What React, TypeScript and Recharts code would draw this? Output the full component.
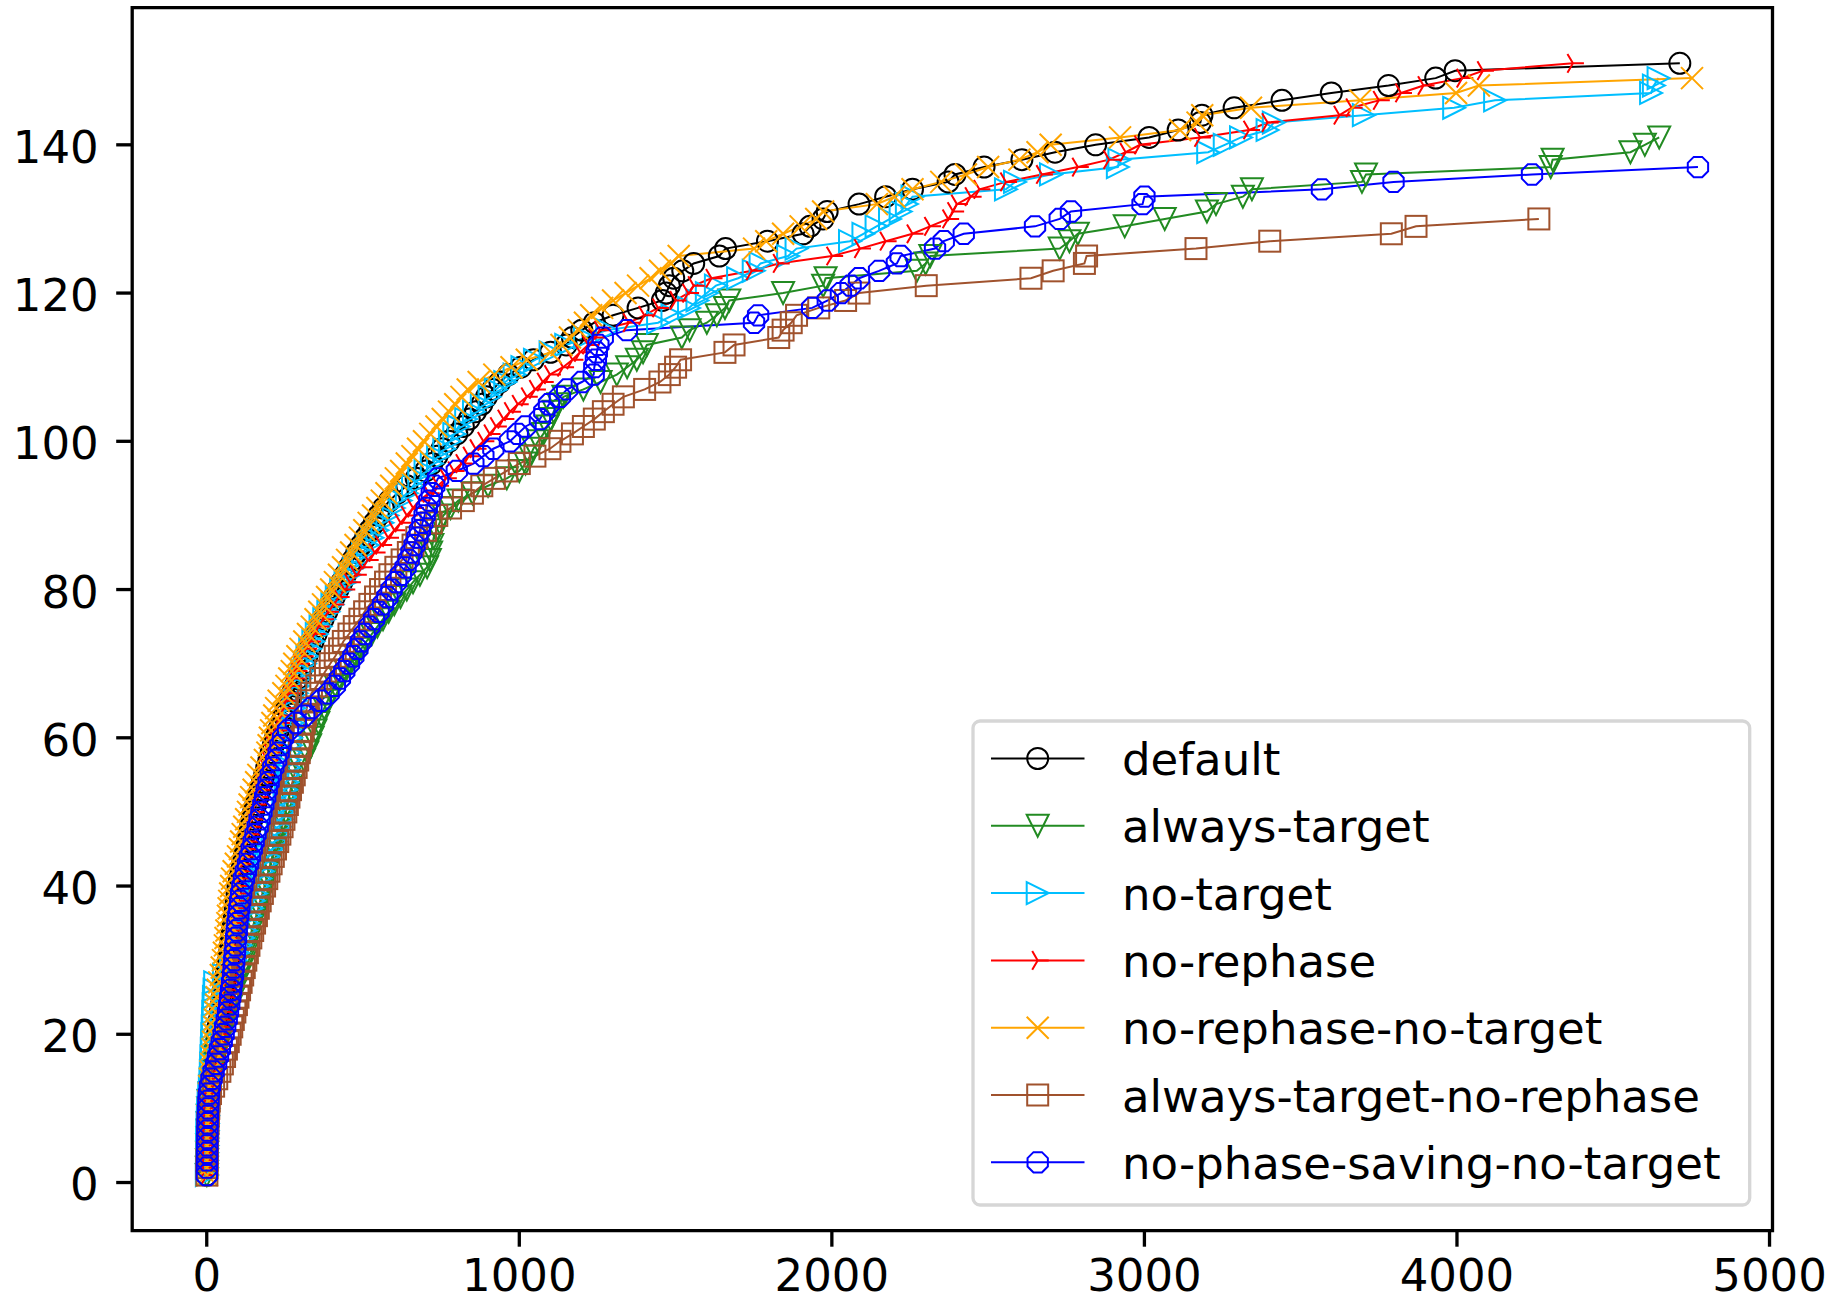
import React from 'react';
import { LineChart, Line, XAxis, YAxis, ReferenceArea } from 'recharts';

// Solve times (x) of each configuration, sorted; y = number of instances solved.
const defaultTimes = [
  0.3, 0.5, 0.7, 1, 1.3, 1.6, 2, 2.5, 3, 4, 5,
  8, 11, 15, 17, 21, 25, 27, 31, 34, 36,
  40, 43, 47, 50, 54, 58, 62, 66, 70, 73,
  76, 79, 82, 85, 88, 91, 94, 97, 100, 105,
  110, 115, 120, 125, 130, 135, 140, 145, 150, 157,
  164, 171, 178, 185, 192, 199, 206, 213, 220, 229,
  238, 247, 256, 265, 274, 283, 292, 301, 310, 320,
  330, 340, 350, 360, 372, 384, 396, 408, 420, 432,
  444, 456, 468, 480, 494, 508, 522, 536, 550, 565,
  585, 610, 640, 670, 700, 720, 736, 753, 775, 800,
  821, 840, 860, 880, 895, 915, 938, 965, 1005, 1045,
  1100, 1150, 1170, 1200, 1240, 1300, 1380, 1458, 1470, 1480,
  1494, 1523, 1558, 1640, 1660, 1794, 1908, 1930, 1972, 1985,
  2087, 2172, 2258, 2372, 2394, 2487, 2608, 2714, 2844, 3015,
  3108, 3179, 3184, 3287, 3440, 3598, 3781, 3932, 3994, 4713,
];

const alwaysTargetTimes = [
  0.4, 0.6, 0.9, 1.2, 1.5, 2, 2.4, 3, 3.6, 4.5, 6,
  9, 12, 16, 20, 25, 31, 37, 44, 52, 58,
  65, 72, 80, 87, 93, 100, 108, 116, 124, 129,
  134, 139, 144, 151, 159, 167, 174, 180, 186, 192,
  197, 204, 210, 216, 221, 227, 235, 244, 253, 258,
  263, 270, 278, 290, 300, 311, 322, 331, 339, 348,
  357, 366, 376, 387, 399, 412, 428, 444, 460, 477,
  494, 511, 528, 546, 564, 582, 600, 620, 640, 660,
  682, 705, 714, 718, 722, 726, 735, 745, 757, 780,
  805, 850, 900, 960, 1000, 1020, 1035, 1045, 1060, 1077,
  1090, 1100, 1110, 1125, 1141, 1205, 1260, 1312, 1345, 1376,
  1396, 1408, 1520, 1545, 1600, 1632, 1658, 1672, 1844, 1972,
  1980, 2272, 2300, 2315, 2729, 2760, 2787, 2937, 3065, 3200,
  3229, 3315, 3344, 3696, 3709, 4300, 4306, 4555, 4601, 4647,
];

const noTargetTimes = [
  0.3, 0.5, 0.8, 1, 1.3, 1.7, 2.2, 2.8, 3.5, 4.5, 6,
  8, 10, 12, 13, 14, 15, 16, 17, 18, 19,
  20, 21, 22, 23, 25, 27, 55, 78, 92, 100,
  108, 116, 124, 131, 138, 144, 150, 157, 164, 171,
  179, 188, 198, 210, 222, 229, 235, 240, 245, 249,
  252, 255, 258, 261, 263, 265, 267, 269, 270, 272,
  274, 277, 280, 284, 288, 293, 299, 306, 314, 322,
  331, 341, 352, 364, 376, 389, 402, 416, 430, 444,
  458, 472, 486, 500, 515, 530, 546, 562, 578, 598,
  620, 640, 660, 680, 700, 720, 740, 760, 778, 792,
  806, 830, 855, 880, 905, 925, 955, 985, 1010, 1050,
  1100, 1150, 1210, 1281, 1444, 1490, 1543, 1570, 1600, 1629,
  1700, 1750, 1772, 1860, 1887, 2058, 2101, 2143, 2186, 2220,
  2240, 2258, 2557, 2586, 2701, 2915, 2920, 3204, 3257, 3309,
  3394, 3414, 3702, 3991, 4122, 4621, 4630, 4645,
];

const noRephaseTimes = [
  0.3, 0.6, 0.9, 1.2, 1.6, 2, 2.5, 3, 3.8, 4.6, 6,
  8, 10, 13, 16, 21, 26, 31, 36, 40, 43,
  46, 49, 52, 55, 58, 61, 64, 67, 70, 73,
  76, 79, 82, 85, 88, 91, 94, 97, 100, 105,
  110, 115, 120, 125, 130, 135, 140, 145, 150, 156,
  162, 168, 174, 180, 187, 194, 201, 208, 215, 223,
  231, 239, 247, 255, 263, 271, 279, 287, 295, 307,
  318, 330, 345, 358, 372, 388, 405, 422, 440, 458,
  477, 496, 515, 537, 558, 580, 600, 620, 640, 660,
  680, 710, 740, 765, 790, 815, 838, 860, 885, 905,
  925, 949, 970, 995, 1024, 1050, 1075, 1098, 1140, 1170,
  1194, 1220, 1240, 1258, 1350, 1400, 1444, 1500, 1540, 1558,
  1615, 1744, 1830, 2001, 2090, 2172, 2258, 2314, 2372, 2388,
  2400, 2444, 2472, 2557, 2672, 2787, 2887, 2940, 2986, 3178,
  3335, 3394, 3624, 3663, 3750, 3821, 3893, 4017, 4083, 4371,
];

const noRephaseNoTargetTimes = [
  0.2, 0.4, 0.6, 0.9, 1.2, 1.5, 2, 2.5, 3, 4, 5,
  7, 8, 10, 12, 14, 16, 18, 20, 22, 24,
  26, 28, 30, 32, 35, 40, 45, 48, 52, 55,
  58, 60, 63, 66, 68, 70, 72, 75, 78, 81,
  86, 93, 100, 106, 110, 115, 120, 126, 132, 137,
  142, 150, 158, 165, 175, 186, 194, 198, 202, 206,
  210, 216, 222, 230, 245, 255, 264, 272, 280, 290,
  300, 312, 324, 336, 348, 360, 372, 385, 398, 410,
  423, 436, 449, 462, 476, 490, 504, 518, 532, 546,
  560, 575, 590, 605, 622, 640, 658, 676, 695, 715,
  735, 755, 775, 795, 815, 835, 870, 920, 975, 1024,
  1100, 1135, 1162, 1190, 1210, 1230, 1265, 1300, 1340, 1380,
  1420, 1450, 1485, 1510, 1751, 1790, 1844, 1900, 1950, 1972,
  2144, 2200, 2258, 2350, 2429, 2500, 2600, 2658, 2700, 2922,
  3114, 3170, 3185, 3341, 3690, 3997, 4070, 4752,
];

const alwaysTargetNoRephaseTimes = [
  0.5, 0.8, 1.2, 1.6, 2, 2.6, 3.2, 4, 5, 6.5, 8,
  12, 22, 32, 42, 50, 57, 63, 69, 75, 80,
  85, 90, 95, 100, 105, 110, 115, 120, 125, 130,
  135, 141, 147, 153, 159, 165, 171, 178, 185, 192,
  199, 206, 213, 220, 227, 234, 241, 247, 253, 258,
  263, 268, 274, 280, 286, 291, 296, 300, 304, 308,
  312, 316, 320, 325, 335, 352, 365, 380, 395, 411,
  425, 437, 455, 472, 490, 505, 522, 540, 556, 572,
  586, 605, 625, 645, 660, 672, 700, 718, 736, 780,
  821, 850, 880, 920, 960, 1000, 1050, 1098, 1130, 1170,
  1205, 1240, 1269, 1300, 1333, 1401, 1450, 1480, 1500, 1516,
  1658, 1687, 1830, 1844, 1870, 1887, 1958, 2044, 2087, 2302,
  2637, 2708, 2808, 2815, 3165, 3401, 3790, 3869, 4262,
];

const noPhaseSavingNoTargetTimes = [
  0.3, 0.5, 0.8, 1.1, 1.4, 1.8, 2.2, 2.8, 3.5, 4.3, 5.5,
  7, 10, 15, 22, 30, 36, 42, 48, 54, 59,
  64, 68, 72, 75, 78, 81, 84, 86, 88, 90,
  92, 94, 96, 98, 101, 104, 107, 110, 114, 119,
  125, 132, 138, 144, 150, 156, 163, 169, 175, 181,
  187, 192, 198, 205, 213, 222, 230, 236, 244, 260,
  285, 312, 335, 365, 390, 410, 426, 440, 455, 469,
  482, 494, 505, 520, 535, 550, 564, 578, 591, 606,
  621, 636, 646, 655, 665, 674, 682, 690, 697, 704,
  712, 720, 728, 740, 800, 853, 885, 917, 970, 995,
  1020, 1066, 1080, 1095, 1130, 1153, 1200, 1238, 1240, 1245,
  1248, 1253, 1267, 1344, 1751, 1764, 1937, 1987, 2029, 2060,
  2087, 2151, 2208, 2220, 2330, 2358, 2422, 2650, 2729, 2765,
  2994, 3000, 3568, 3797, 4240, 4771,
];

const xTicks = [0, 1000, 2000, 3000, 4000, 5000];
const yTicks = [0, 20, 40, 60, 80, 100, 120, 140];

type Kind = 'circle' | 'tdown' | 'tright' | 'tri4' | 'x' | 'square' | 'oct';

const series: { name: string; times: number[]; color: string; kind: Kind }[] = [
  { name: 'default', times: defaultTimes, color: '#000000', kind: 'circle' },
  { name: 'always-target', times: alwaysTargetTimes, color: '#228B22', kind: 'tdown' },
  { name: 'no-target', times: noTargetTimes, color: '#00BFFF', kind: 'tright' },
  { name: 'no-rephase', times: noRephaseTimes, color: '#FF0000', kind: 'tri4' },
  { name: 'no-rephase-no-target', times: noRephaseNoTargetTimes, color: '#FFA500', kind: 'x' },
  { name: 'always-target-no-rephase', times: alwaysTargetNoRephaseTimes, color: '#A0522D', kind: 'square' },
  { name: 'no-phase-saving-no-target', times: noPhaseSavingNoTargetTimes, color: '#0000FF', kind: 'oct' },
];

const MW = 2; // marker edge width

function marker(kind: Kind, cx: number, cy: number, color: string, key: string) {
  const common = { fill: 'none', stroke: color, strokeWidth: MW, key } as any;
  const r = 11;
  switch (kind) {
    case 'circle':
      return <circle {...common} cx={cx} cy={cy} r={10.5} />;
    case 'tdown':
      return <polygon {...common} strokeLinejoin="miter" points={`${cx - r},${cy - r} ${cx + r},${cy - r} ${cx},${cy + r}`} />;
    case 'tright':
      return <polygon {...common} strokeLinejoin="miter" points={`${cx - r},${cy - r} ${cx - r},${cy + r} ${cx + r},${cy}`} />;
    case 'tri4':
      return (
        <path
          {...common}
          d={`M${cx},${cy}L${cx + r},${cy}M${cx},${cy}L${cx - 0.5 * r},${cy - 0.85 * r}M${cx},${cy}L${cx - 0.5 * r},${cy + 0.85 * r}`}
        />
      );
    case 'x':
      return <path {...common} d={`M${cx - r},${cy - r}L${cx + r},${cy + r}M${cx - r},${cy + r}L${cx + r},${cy - r}`} />;
    case 'square':
      return <rect {...common} x={cx - 10.5} y={cy - 10.5} width={21} height={21} />;
    case 'oct': {
      const pts: string[] = [];
      for (let k = 0; k < 8; k++) {
        const a = ((22.5 + 45 * k) * Math.PI) / 180;
        pts.push(`${cx + r * Math.cos(a)},${cy + r * Math.sin(a)}`);
      }
      return <polygon {...common} points={pts.join(' ')} />;
    }
  }
  return null as any;
}

const FONT = 'DejaVu Sans';

export default function App() {
  const legendX = 973;
  const legendY = 721;
  const rowY0 = 758.5;
  const rowStep = 67.3;
  return (
    <div style={{ position: 'absolute', left: 0, top: 0, width: 1843, height: 1303, background: '#fff' }}>
      <LineChart
        width={1843}
        height={1303}
        margin={{ top: 7.7, right: 70.5, bottom: 0, left: 0 }}
      >
        <XAxis
          type="number"
          dataKey="x"
          domain={[-238.5, 5009.5]}
          allowDataOverflow
          ticks={xTicks}
          interval={0}
          height={72.3}
          tickSize={16}
          tickMargin={12}
          axisLine={false}
          tickLine={{ stroke: '#000', strokeWidth: 3.3 }}
          tick={{ fontSize: 45, fill: '#000', fontFamily: FONT }}
        />
        <YAxis
          type="number"
          domain={[-6.5, 158.5]}
          allowDataOverflow
          ticks={yTicks}
          interval={0}
          width={132.2}
          tickSize={16}
          tickMargin={17.5}
          axisLine={false}
          tickLine={{ stroke: '#000', strokeWidth: 3.3 }}
          tick={{ fontSize: 45, fill: '#000', fontFamily: FONT, dy: 2 } as any}
        />
        {series.map((s) => (
          <Line
            key={s.name}
            name={s.name}
            data={s.times.map((t, i) => ({ x: t, y: i + 1 }))}
            dataKey="y"
            type="linear"
            stroke={s.color}
            strokeWidth={2}
            isAnimationActive={false}
            activeDot={false}
            legendType="none"
            dot={(p: any) => marker(s.kind, p.cx, p.cy, s.color, `${s.name}-${p.index}`)}
          />
        ))}
        <ReferenceArea
          x1={-238.5}
          x2={5009.5}
          y1={-6.5}
          y2={158.5}
          ifOverflow="visible"
          fill="none"
          fillOpacity={0}
          stroke="#000"
          strokeWidth={3.3}
        />
      </LineChart>
      <svg
        width={1843}
        height={1303}
        style={{ position: 'absolute', left: 0, top: 0, pointerEvents: 'none' }}
      >
        <rect
          x={legendX}
          y={legendY}
          width={776.7}
          height={484}
          rx={7}
          ry={7}
          fill="#ffffff"
          fillOpacity={0.8}
          stroke="#d6d6d6"
          strokeWidth={3.3}
        />
        {series.map((s, i) => {
          const cy = rowY0 + i * rowStep;
          return (
            <g key={s.name}>
              <line x1={991} x2={1084.5} y1={cy} y2={cy} stroke={s.color} strokeWidth={2} />
              {marker(s.kind, 1037.7, cy, s.color, `leg-${s.name}`)}
              <text x={1122} y={cy + 16.5} fontSize={45} fontFamily={FONT} fill="#000">
                {s.name}
              </text>
            </g>
          );
        })}
      </svg>
    </div>
  );
}
